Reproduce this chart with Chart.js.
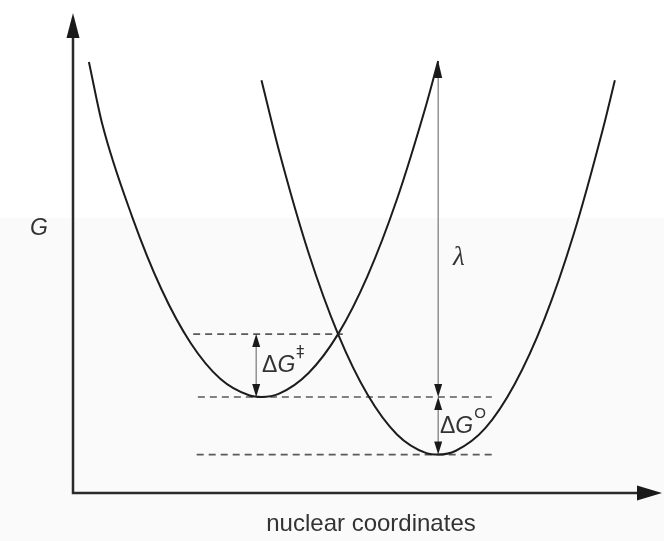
<!DOCTYPE html>
<html>
<head>
<meta charset="utf-8">
<script src="https://cdn.jsdelivr.net/npm/chart.js@4"></script>
<style>
  body { margin: 0; background: #fff; }
  #wrap { width: 664px; height: 541px; position: relative; }
</style>
</head>
<body>
<div id="wrap"><canvas id="marcusChart"></canvas></div>
<script>
// Reactant curve (left parabola)
const reactQ = [0.27, 0.5, 1.0, 1.5, 2.0, 2.5, 3.0, 3.2, 3.5, 4.0, 4.5, 5.0, 5.5, 6.0, 6.2];
const reactG = [8.98, 7.67, 5.77, 4.25, 3.12, 2.38, 2.03, 2.0, 2.07, 2.5, 3.31, 4.52, 6.12, 8.1, 9.0];

// Product curve (right parabola)
const prodQ = [3.2, 3.5, 4.0, 4.5, 5.0, 5.5, 6.0, 6.2, 6.5, 7.0, 7.5, 8.0, 8.5, 9.0, 9.2];
const prodG = [8.6, 7.12, 5.0, 3.31, 2.05, 1.22, 0.83, 0.8, 0.88, 1.35, 2.27, 3.61, 5.39, 7.6, 8.6];

// Dashed energy levels: crossing point, reactant minimum, product minimum
const levelG = [3.31, 2.0, 0.8];
const levelFrom = [2.04, 2.12, 2.1];
const levelTo = [4.58, 7.11, 7.11];

// Double arrows: [q, G bottom, G top]
const arrowQ = [3.11, 6.2, 6.2];
const arrowLow = [2.0, 2.0, 0.8];
const arrowHigh = [3.31, 9.0, 2.0];

// Labels (positions in chart units)
const labelText = ['ΔG', 'λ', 'ΔG'];
const labelSup = ['‡', '', 'O'];
const labelQ = [3.21, 6.45, 6.23];
const labelG = [2.52, 4.75, 1.25];

const toPts = (xs, ys) => xs.map((x, i) => ({ x: x, y: ys[i] }));

const datasets = [
    {
        data: toPts(reactQ, reactG),
        borderColor: '#1c1c1c',
        borderWidth: 2,
        pointRadius: 0,
        cubicInterpolationMode: 'monotone'
    },
    {
        data: toPts(prodQ, prodG),
        borderColor: '#1c1c1c',
        borderWidth: 2,
        pointRadius: 0,
        cubicInterpolationMode: 'monotone'
    }
];
levelG.forEach((g, i) => {
    datasets.push({
        data: [{ x: levelFrom[i], y: g }, { x: levelTo[i], y: g }],
        borderColor: '#5a5a5a',
        borderWidth: 1.7,
        borderDash: [7, 5],
        pointRadius: 0
    });
});

function head(ctx, x, y, dir, len, half) {
    // dir: 1 = pointing up, -1 = pointing down
    ctx.beginPath();
    ctx.moveTo(x, y);
    ctx.lineTo(x - half, y + dir * len);
    ctx.lineTo(x + half, y + dir * len);
    ctx.closePath();
    ctx.fill();
}

const decor = {
    id: 'decor',
    beforeDraw(chart) {
        const ctx = chart.ctx;
        ctx.save();
        ctx.fillStyle = '#ffffff';
        ctx.fillRect(0, 0, chart.width, chart.height);
        ctx.fillStyle = '#fafafa';
        ctx.fillRect(0, 218, chart.width, chart.height - 218);
        ctx.restore();
    },
    afterDraw(chart) {
        const ctx = chart.ctx;
        const xs = chart.scales.x, ys = chart.scales.y;
        const a = chart.chartArea;
        ctx.save();

        // axes with arrowheads
        ctx.strokeStyle = '#2a2a2a';
        ctx.fillStyle = '#1a1a1a';
        ctx.lineWidth = 2.5;
        ctx.beginPath();
        ctx.moveTo(a.left, a.top + 20);
        ctx.lineTo(a.left, a.bottom);
        ctx.lineTo(a.right - 20, a.bottom);
        ctx.stroke();
        head(ctx, a.left, a.top, 1, 25, 6.5);
        ctx.beginPath();
        ctx.moveTo(a.right, a.bottom);
        ctx.lineTo(a.right - 25, a.bottom - 7.5);
        ctx.lineTo(a.right - 25, a.bottom + 7.5);
        ctx.closePath();
        ctx.fill();

        // double arrows
        arrowQ.forEach((q, i) => {
            const x = xs.getPixelForValue(q);
            const y1 = ys.getPixelForValue(arrowLow[i]);
            const y2 = ys.getPixelForValue(arrowHigh[i]);
            const len = i === 1 ? 17 : 13;
            ctx.strokeStyle = '#777';
            ctx.lineWidth = 1.2;
            ctx.beginPath();
            ctx.moveTo(x, y2 + 4);
            ctx.lineTo(x, y1 - 4);
            ctx.stroke();
            ctx.fillStyle = '#1a1a1a';
            head(ctx, x, y2, 1, len, 4);
            head(ctx, x, y1, -1, 13, 4);
        });

        // labels
        ctx.fillStyle = '#333';
        ctx.textBaseline = 'alphabetic';
        ctx.textAlign = 'left';
        labelText.forEach((t, i) => {
            let x = xs.getPixelForValue(labelQ[i]);
            const y = ys.getPixelForValue(labelG[i]);
            if (t === 'λ') {
                ctx.font = 'italic 27px "Liberation Serif", serif';
                ctx.fillText(t, x, y);
                return;
            }
            ctx.font = '23px "Liberation Sans", Arial, sans-serif';
            ctx.fillText('Δ', x, y);
            x += ctx.measureText('Δ').width;
            ctx.font = 'italic 23px "Liberation Sans", Arial, sans-serif';
            ctx.fillText('G', x, y);
            x += ctx.measureText('G').width + 1;
            ctx.font = labelSup[i] === 'O' ? '15px "Liberation Sans", Arial, sans-serif'
                                           : '16px "DejaVu Sans", sans-serif';
            ctx.fillText(labelSup[i], x, y - 15);
        });

        // axis titles
        ctx.font = 'italic 23px "Liberation Sans", Arial, sans-serif';
        ctx.textAlign = 'center';
        ctx.textBaseline = 'middle';
        ctx.fillText('G', 39, 229);
        ctx.font = '24px "Liberation Sans", Arial, sans-serif';
        ctx.fillText('nuclear coordinates', 371, 524);
        ctx.restore();
    }
};

const chart = new Chart(document.getElementById('marcusChart'), {
    type: 'line',
    data: { datasets: datasets },
    options: {
        responsive: true,
        maintainAspectRatio: false,
        animation: false,
        layout: { padding: { left: 73, top: 13, right: 2, bottom: 48 } },
        plugins: { legend: { display: false }, tooltip: { enabled: false } },
        scales: {
            x: { type: 'linear', min: 0, max: 10, display: false },
            y: { type: 'linear', min: 0, max: 10, display: false }
        }
    },
    plugins: [decor]
});
</script>
</body>
</html>
